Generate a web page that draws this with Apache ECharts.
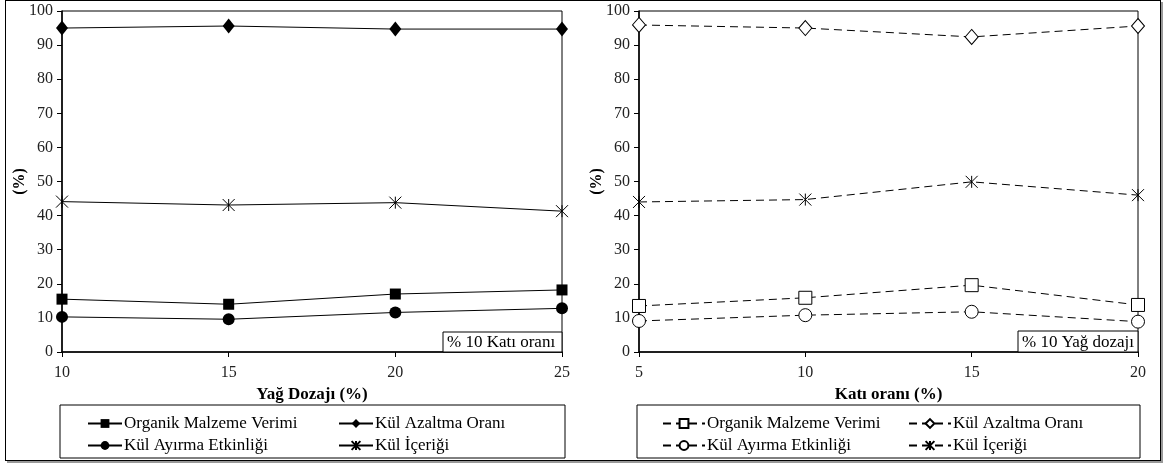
<!DOCTYPE html>
<html>
<head>
<meta charset="utf-8">
<script src="https://cdn.jsdelivr.net/npm/echarts@6/dist/echarts.min.js"></script>
<style>
html,body{margin:0;padding:0;background:#fff;width:1167px;height:466px;overflow:hidden;}
#frame{position:absolute;left:5px;top:0;width:1154px;height:459px;border:1px solid #000;box-shadow:2px 2px 0 #999;}
#cl{position:absolute;left:0;top:0;width:580px;height:466px;}
#cr{position:absolute;left:580px;top:0;width:587px;height:466px;}
</style>
</head>
<body>
<div id="frame"></div>
<div id="cl"></div>
<div id="cr"></div>
<script>
// Left chart: Yağ Dozajı (%)
const xLeft = [10, 15, 20, 25];
const leftOrganik = [15.5, 14.0, 17.0, 18.2];
const leftAzaltma = [95.0, 95.6, 94.7, 94.7];
const leftAyirma = [10.3, 9.6, 11.6, 12.8];
const leftIcerik = [44.1, 43.1, 43.8, 41.3];
// Right chart: Katı oranı (%)
const xRight = [5, 10, 15, 20];
const rightOrganik = [13.5, 15.9, 19.6, 13.8];
const rightAzaltma = [95.9, 95.0, 92.4, 95.6];
const rightAyirma = [9.1, 10.8, 11.8, 8.9];
const rightIcerik = [44.0, 44.7, 49.9, 46.0];
const yTicks = [0, 10, 20, 30, 40, 50, 60, 70, 80, 90, 100];

const names = ['Organik Malzeme Verimi', 'Kül Azaltma Oranı', 'Kül Ayırma Etkinliği', 'Kül İçeriği'];
const FONT = 'Liberation Serif';
const ASTER = 'path://M0,0L12,12M12,0L0,12M6,0L6,12';

function pairs(xs, ys) { return xs.map((x, i) => [x, ys[i]]); }

function baseOption(xs, xName, gridLeft, gridW, note, noteBox, legendBox, legCols, legItemW) {
  return {
    animation: false,
    textStyle: { fontFamily: FONT },
    grid: { left: gridLeft, top: 11, width: gridW, height: 341, show: true, borderColor: '#000', borderWidth: 1, backgroundColor: 'transparent', containLabel: false, outerBoundsMode: 'none' },
    xAxis: {
      type: 'value', min: xs[0], max: xs[xs.length - 1], interval: 5,
      name: xName, nameLocation: 'middle', nameGap: 43, nameMoveOverlap: false,
      nameTextStyle: { fontFamily: FONT, fontSize: 17, fontWeight: 'bold', color: '#000', verticalAlign: 'middle' },
      axisLine: { lineStyle: { color: '#000', width: 1.5 } },
      axisTick: { show: true, inside: false, length: 5, lineStyle: { color: '#000' } },
      axisLabel: { fontFamily: FONT, fontSize: 16, color: '#222', margin: 13 },
      splitLine: { show: false }
    },
    yAxis: {
      type: 'value', min: yTicks[0], max: yTicks[yTicks.length - 1], interval: 10,
      name: '(%)', nameLocation: 'middle', nameGap: 42, nameRotate: 90, nameMoveOverlap: false,
      nameTextStyle: { fontFamily: FONT, fontSize: 16, fontWeight: 'bold', color: '#000', verticalAlign: 'middle' },
      axisLine: { show: true, lineStyle: { color: '#000', width: 1.5 } },
      axisTick: { show: true, inside: false, length: 5, lineStyle: { color: '#000' } },
      axisLabel: { fontFamily: FONT, fontSize: 16, color: '#222', margin: 9 },
      splitLine: { show: false }
    },
    legend: legCols.map(c => ({
      orient: 'vertical', left: c.left, top: 410, itemGap: 5, itemWidth: legItemW, itemHeight: 11,
      data: c.data, textStyle: { fontFamily: FONT, fontSize: 17, color: '#000', padding: [0, 0, 0, -3] },
      selectedMode: false
    })),
    graphic: [
      { type: 'rect', shape: legendBox, style: { fill: 'none', stroke: '#000', lineWidth: 1 }, silent: true },
      { type: 'rect', shape: noteBox, style: { fill: '#fff', stroke: '#000', lineWidth: 1 }, silent: true, z: 10 },
      { type: 'text', x: noteBox.x + 4, y: noteBox.y + noteBox.height / 2 + 1, style: { text: note, font: '17px "' + FONT + '"', fill: '#000', verticalAlign: 'middle' }, silent: true, z: 11 }
    ]
  };
}

const cl = echarts.init(document.getElementById('cl'));
const optL = baseOption(xLeft, 'Yağ Dozajı (%)', 62, 500, '% 10 Katı oranı',
  { x: 443, y: 332, width: 119, height: 20 }, { x: 60, y: 405, width: 505, height: 53 },
  [{ left: 82, data: [names[0], names[2]] }, { left: 333, data: [names[1], names[3]] }], 34);
const solid = { color: '#000', width: 1, type: 'solid' };
optL.series = [
  { name: names[0], type: 'line', data: pairs(xLeft, leftOrganik), symbol: 'rect', symbolSize: 11, itemStyle: { color: '#000' }, lineStyle: solid },
  { name: names[1], type: 'line', data: pairs(xLeft, leftAzaltma), symbol: 'diamond', symbolSize: [12, 15], itemStyle: { color: '#000' }, lineStyle: solid },
  { name: names[2], type: 'line', data: pairs(xLeft, leftAyirma), symbol: 'circle', symbolSize: 12, itemStyle: { color: '#000' }, lineStyle: solid },
  { name: names[3], type: 'line', data: pairs(xLeft, leftIcerik), symbol: ASTER, symbolSize: 12, itemStyle: { color: 'none', borderColor: '#000', borderWidth: 1 }, lineStyle: solid }
];
cl.setOption(optL);

const cr = echarts.init(document.getElementById('cr'));
const optR = baseOption(xRight, 'Katı oranı (%)', 59, 499, '% 10 Yağ dozajı',
  { x: 438, y: 331, width: 120, height: 21 }, { x: 57, y: 405, width: 503, height: 53 },
  [{ left: 77, data: [names[0], names[2]] }, { left: 323, data: [names[1], names[3]] }], 42);
const dashed = { color: '#000', width: 1, type: [8, 5] };
const openStyle = { color: '#fff', borderColor: '#000', borderWidth: 1 };
optR.series = [
  { name: names[0], type: 'line', data: pairs(xRight, rightOrganik), symbol: 'rect', symbolSize: 13, itemStyle: openStyle, lineStyle: dashed },
  { name: names[1], type: 'line', data: pairs(xRight, rightAzaltma), symbol: 'diamond', symbolSize: [13, 15], itemStyle: openStyle, lineStyle: dashed },
  { name: names[2], type: 'line', data: pairs(xRight, rightAyirma), symbol: 'circle', symbolSize: 13, itemStyle: openStyle, lineStyle: dashed },
  { name: names[3], type: 'line', data: pairs(xRight, rightIcerik), symbol: ASTER, symbolSize: 12, itemStyle: { color: 'none', borderColor: '#000', borderWidth: 1 }, lineStyle: dashed }
];
cr.setOption(optR);
</script>
</body>
</html>
